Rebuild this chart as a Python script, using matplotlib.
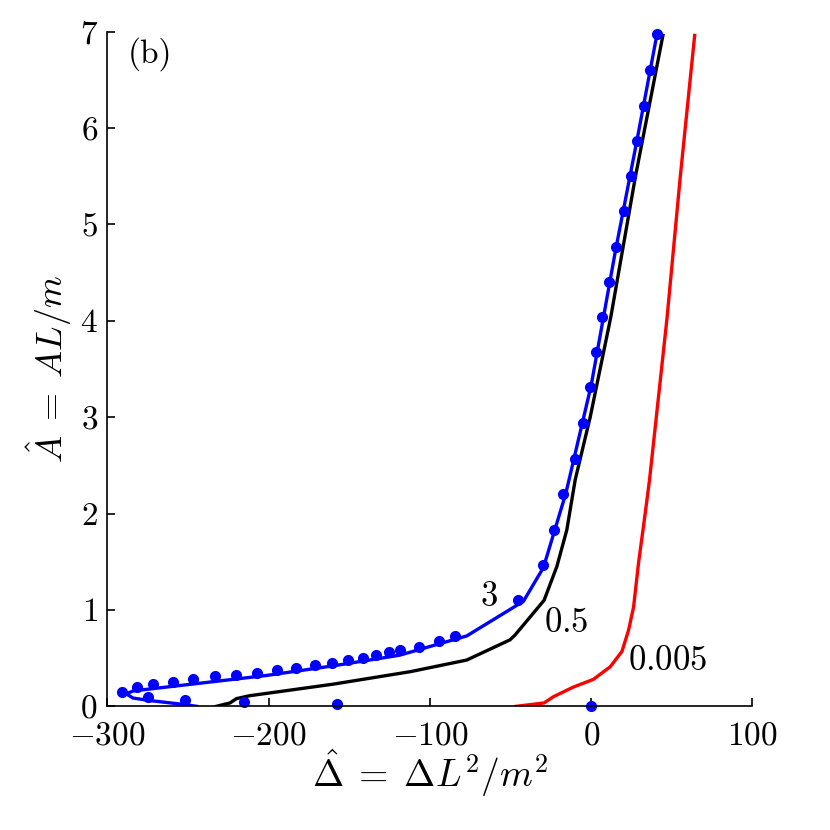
import matplotlib
matplotlib.use("Agg")
import matplotlib.pyplot as plt

plt.rcParams["mathtext.fontset"] = "cm"
plt.rcParams["font.family"] = "serif"
plt.rcParams["font.serif"] = ["cmr10", "DejaVu Serif"]
plt.rcParams["axes.unicode_minus"] = True

# curve labelled "3" (blue line)
blue_x = [-244.7, -253, -263.4, -273.8, -284.2, -288.3, -284, -240, -201.5, -160,
          -118.9, -77.2, -42, -29.6, -15.7, 0, 15, 28.5, 40.8]
blue_y = [0.0, 0.02, 0.04, 0.06, 0.086, 0.13, 0.16, 0.245, 0.32, 0.42,
          0.53, 0.73, 1.09, 1.44, 2.21, 3.33, 4.72, 5.88, 6.97]

# blue dots
dot_x = [0, -157.8, -215.3, -252, -275, -291, -281.6, -271.9, -259.6, -246.8,
         -233.5, -220.3, -207, -194.6, -182.8, -171.4, -160.7, -151.1, -141.8,
         -133.5, -125.5, -118.6, -106.6, -94.4, -84.5, -45.2, -30, -22.8, -17.2,
         -10, -5, -1, 3, 6.8, 11.2, 15.5, 20.1, 24.4, 28.6, 32.7, 36.8, 40.8]
dot_y = [0.0, 0.02, 0.045, 0.07, 0.10, 0.15, 0.20, 0.23, 0.25, 0.28,
         0.31, 0.33, 0.35, 0.38, 0.40, 0.43, 0.45, 0.48, 0.50,
         0.53, 0.56, 0.58, 0.62, 0.68, 0.73, 1.10, 1.47, 1.83, 2.20,
         2.57, 2.94, 3.31, 3.68, 4.04, 4.40, 4.76, 5.14, 5.50, 5.86, 6.23, 6.60, 6.97]

# curve labelled "0.5" (black)
black_x = [-232.5, -224, -220, -211.8, -160, -112, -77.2, -50.3, -47.2, -29.2,
           -21.3, -15.1, -9.9, -0.6, 12.2, 27.5, 44.5]
black_y = [0.0, 0.035, 0.08, 0.11, 0.23, 0.36, 0.48, 0.69, 0.74, 1.10,
           1.45, 1.83, 2.35, 3.0, 4.04, 5.5, 6.96]

# curve labelled "0.005" (red)
red_x = [-46.6, -29.2, -23.4, -11, 1.4, 11.8, 19.1, 23.2, 26.3, 29.4, 33.5, 36.2,
         47, 55.3, 64.2]
red_y = [0.0, 0.035, 0.10, 0.2, 0.28, 0.41, 0.57, 0.79, 1.03, 1.49, 2.0, 2.35,
         4.02, 5.5, 6.96]

xticks = [-300, -200, -100, 0, 100]
yticks = [0, 1, 2, 3, 4, 5, 6, 7]


def main():
    fig = plt.figure(figsize=(8.3, 8.3), dpi=100)
    ax = fig.add_axes([0.1295, 0.149, 0.777, 0.813])

    ax.plot(black_x, black_y, color="black", lw=2.4)
    ax.plot(red_x, red_y, color="red", lw=2.4)
    ax.plot(blue_x, blue_y, color="blue", lw=2.4)
    ax.plot(dot_x, dot_y, "o", color="blue", ms=7, clip_on=False)

    ax.text(-63.4, 1.13, "$3$", fontsize=25, ha="center", va="center")
    ax.text(-15.5, 0.865, "$0.5$", fontsize=25, ha="center", va="center")
    ax.text(47.5, 0.47, "$0.005$", fontsize=25, ha="center", va="center")
    ax.text(-273.6, 6.77, "(b)", fontsize=24, ha="center", va="center")

    ax.set_xlim(-300, 100)
    ax.set_ylim(0, 7)
    ax.set_xticks(xticks)
    ax.set_xticklabels(["$%d$" % t if t >= 0 else "$-%d$" % (-t) for t in xticks])
    ax.set_yticks(yticks)
    ax.set_yticklabels(["$%d$" % t for t in yticks])
    ax.tick_params(direction="in", length=6, width=1.2, labelsize=24)
    ax.tick_params(axis="x", pad=11)
    ax.tick_params(axis="y", pad=7)
    ax.spines["top"].set_visible(False)
    ax.spines["right"].set_visible(False)
    ax.spines["left"].set_linewidth(1.2)
    ax.spines["bottom"].set_linewidth(1.2)

    ax.set_xlabel(r"$\hat{\Delta}\;=\;\Delta L^2/m^2$", fontsize=27, labelpad=-2)
    ax.set_ylabel(r"$\hat{A}\;=\;AL/m$", fontsize=26, labelpad=4)

    fig.savefig("out.png", dpi=100)


if __name__ == "__main__":
    main()
